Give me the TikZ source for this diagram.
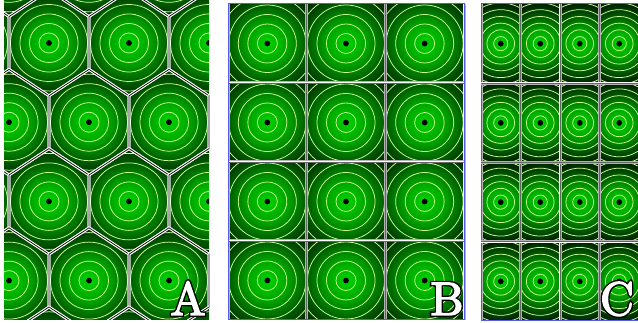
\documentclass[tikz,border=0pt]{standalone}
\usetikzlibrary{calc}
\definecolor{gc0}{RGB}{0,212,0}
\definecolor{gc1}{RGB}{0,165,0}
\definecolor{gc2}{RGB}{0,88,0}
\definecolor{gc3}{RGB}{0,36,0}
\definecolor{gc4}{RGB}{0,20,0}
\definecolor{ringc}{RGB}{200,255,150}
\definecolor{framec}{RGB}{90,90,230}
\font\lblW="[lmroman10-regular.otf]:embolden=3" at 47pt
\font\lblK="[lmroman10-regular.otf]:embolden=9" at 47pt
\pgfdeclareradialshading{cellshade}{\pgfpoint{0bp}{0bp}}{color(0bp)=(gc0); color(7.7bp)=(gc1); color(15.4bp)=(gc2); color(21.5bp)=(gc3); color(25bp)=(gc4); color(50bp)=(gc4)}
\tikzset{
  ring/.style={draw=ringc, line width=0.75pt},
  centredot/.style={fill=black},
  lblk/.style={font=\lblK, text=black, inner sep=0pt, anchor=base},
  lblw/.style={font=\lblW, text=white, inner sep=0pt, anchor=base},
  hexedge/.style={draw=white, double=black, double distance=0.7pt, line width=1pt, line join=miter},
  gridouter/.style={draw=gray!60, line width=3pt},
  gridmid/.style={draw=white, line width=1.6pt},
  gridin/.style={draw=black!60, line width=0.5pt},
  bframe/.style={draw=framec, line width=1pt}
}
\newcommand{\cellfill}[3]{%
  \begin{scope}[shift={(#1,#2)}, scale=#3]
    \shade[shading=cellshade] (0,0) circle (65);
    \foreach \rr in {10,19.5,29,38.5,48,57.5} \draw[ring] (0,0) circle (\rr);
  \end{scope}
  \fill[centredot] (#1,#2) circle (2.9);
}
\newcommand{\hexpath}[2]{(#1,#2-52.8) -- (#1+40,#2-26.4) -- (#1+40,#2+26.4) -- (#1,#2+52.8) -- (#1-40,#2+26.4) -- (#1-40,#2-26.4) -- cycle}
\newcommand{\outl}[3]{%
  \node[lblk] (#1k) at (#2) {#3};
  \node[lblw] (#1) at (#2) {#3};
}
\begin{document}
\begin{tikzpicture}[x=1pt, y=-1pt]
\useasboundingbox (0,0) rectangle (638,323);
\fill[white] (0,0) rectangle (638,323);
% ---------------- Panel A (hexagons)
\begin{scope}
  \clip (4,0) rectangle (209,320);
  \foreach \r in {-1,0,1,2,3,4} {
    \pgfmathsetmacro{\cy}{43+79.2*\r}
    \pgfmathsetmacro{\off}{ifthenelse(mod(\r+2,2)==0,49,9)}
    \foreach \k in {-1,0,1,2,3} {
      \pgfmathsetmacro{\cx}{\off+80*\k}
      \begin{scope}
        \clip \hexpath{\cx}{\cy};
        \cellfill{\cx}{\cy}{1}
      \end{scope}
    }
  }
  \foreach \r in {-1,0,1,2,3,4} {
    \pgfmathsetmacro{\cy}{43+79.2*\r}
    \pgfmathsetmacro{\off}{ifthenelse(mod(\r+2,2)==0,49,9)}
    \foreach \k in {-1,0,1,2,3} {
      \pgfmathsetmacro{\cx}{\off+80*\k}
      \draw[hexedge] \hexpath{\cx}{\cy};
    }
  }
\end{scope}
% ---------------- Panel B (squares)
\foreach \i in {0,1,2} {
  \foreach \j in {0,1,2,3} {
    \pgfmathsetmacro{\xa}{228+78.667*\i}
    \pgfmathsetmacro{\ya}{4+79*\j}
    \begin{scope}
      \clip (\xa,\ya) rectangle ++(78.667,79);
      \cellfill{\xa+39.333}{\ya+39.5}{1}
    \end{scope}
  }
}
\foreach \i in {0,1,2,3} {
  \pgfmathsetmacro{\xa}{228+78.667*\i}
  \draw[gridouter] (\xa,4) -- (\xa,320);
  \draw[gridmid] (\xa,4) -- (\xa,320);
  \draw[gridin] (\xa,4) -- (\xa,320);
}
\foreach \j in {1,2,3} {
  \pgfmathsetmacro{\ya}{4+79*\j}
  \draw[gridouter] (228,\ya) -- (464,\ya);
  \draw[gridmid] (228,\ya) -- (464,\ya);
  \draw[gridin] (228,\ya) -- (464,\ya);
}
\draw[bframe] (228,4) rectangle (464,320);
% ---------------- Panel C (narrow rectangles)
\foreach \i in {0,1,2,3} {
  \foreach \j in {0,1,2,3} {
    \pgfmathsetmacro{\xa}{481+39.5*\i}
    \pgfmathsetmacro{\ya}{4+79.25*\j}
    \begin{scope}
      \clip (\xa,\ya) rectangle ++(39.5,79.25);
      \cellfill{\xa+19.75}{\ya+39.625}{0.707}
    \end{scope}
  }
}
\foreach \i in {0,1,2,3,4} {
  \pgfmathsetmacro{\xa}{481+39.5*\i}
  \draw[gridouter] (\xa,4) -- (\xa,321);
  \draw[gridmid] (\xa,4) -- (\xa,321);
  \draw[gridin] (\xa,4) -- (\xa,321);
}
\foreach \j in {1,2,3} {
  \pgfmathsetmacro{\ya}{4+79.25*\j}
  \draw[gridouter] (481,\ya) -- (638,\ya);
  \draw[gridmid] (481,\ya) -- (638,\ya);
  \draw[gridin] (481,\ya) -- (638,\ya);
}
\draw[bframe] (481,4) -- (638,4);
\draw[bframe] (481,321) -- (638,321);
% ---------------- Labels
\coordinate (pA) at (188,315);
\coordinate (pB) at (447,315);
\coordinate (pC) at (617,315);
\outl{labA}{pA}{A}
\outl{labB}{pB}{B}
\outl{labC}{pC}{C}
\end{tikzpicture}
\end{document}
